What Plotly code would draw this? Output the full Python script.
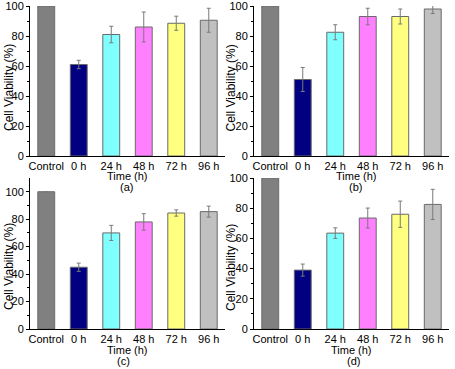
import plotly.graph_objects as go

categories = ["Control", "0 h", "24 h", "48 h", "72 h", "96 h"]
bar_colors = ["#808080", "#000080", "#80FFFF", "#FF80FF", "#FFFF80", "#C0C0C0"]

vals_a = [100, 61, 81, 86, 88.5, 90.5]
err_a = [None, 2.8, 5.5, 10, 4.7, 8]
vals_b = [100, 51, 82.5, 93, 93, 98]
err_b = [None, 8, 5, 5.5, 5, 3]
vals_c = [100, 45, 70, 78, 84.5, 85.5]
err_c = [None, 3, 5.5, 6, 2.3, 4]
vals_d = [100, 39, 63.5, 73.5, 76, 82.5]
err_d = [None, 4, 3.5, 6.6, 8.7, 10]

panel_labels = ["(a)", "(b)", "(c)", "(d)"]
x_title = "Time (h)"
y_title = "Cell Viability (%)"

W, H = 455, 369
FONT = "Arial, 'Liberation Sans', sans-serif"

def fx(px):
    return px / W

def fy(py):
    return 1 - py / H

panels = [
    dict(vals=vals_a, err=err_a, xd=(30, 225), yd=(156, 6), yr=[0, 100]),
    dict(vals=vals_b, err=err_b, xd=(254, 449), yd=(156, 6), yr=[0, 100]),
    dict(vals=vals_c, err=err_c, xd=(30, 225), yd=(329, 178), yr=[0, 110]),
    dict(vals=vals_d, err=err_d, xd=(254, 449), yd=(329, 178), yr=[0, 100]),
]

fig = go.Figure()
layout = {}
for i, p in enumerate(panels):
    n = "" if i == 0 else str(i + 1)
    fig.add_trace(go.Bar(
        x=categories, y=p["vals"],
        xaxis="x" + n, yaxis="y" + n,
        marker=dict(color=bar_colors, line=dict(color="#6a6a6a", width=1)),
        width=0.52,
        error_y=dict(type="data", array=p["err"], visible=True,
                     color="#7a7a7a", thickness=1, width=2),
        showlegend=False, hoverinfo="skip",
    ))
    layout["xaxis" + n] = dict(
        domain=[fx(p["xd"][0]), fx(p["xd"][1])],
        anchor="y" + n, type="category", range=[-0.5, 5.5],
        showline=True, linecolor="black", linewidth=1,
        ticks="", showgrid=False, zeroline=False, automargin=False,
        ticklabeloverflow="allow",
        tickfont=dict(family=FONT, size=11, color="black"),
    )
    layout["yaxis" + n] = dict(
        domain=[fy(p["yd"][0]), fy(p["yd"][1])],
        anchor="x" + n, range=p["yr"],
        showline=True, linecolor="black", linewidth=1,
        ticks="outside", ticklen=3, tickcolor="black", tickwidth=1,
        tickvals=[0, 20, 40, 60, 80, 100],
        minor=dict(ticks="outside", ticklen=2, tickcolor="black",
                   tickvals=[10, 30, 50, 70, 90]),
        showgrid=False, zeroline=False, automargin=False,
        ticklabeloverflow="allow",
        tickfont=dict(family=FONT, size=11, color="black"),
    )

ann = []
xt = [(127.5, 175.5), (356, 175.5), (127.5, 350), (351, 350)]
pl = [(126, 187), (355, 187), (124, 361), (353, 361)]
yt = [(9, 88), (230.5, 88), (9, 267), (231, 268)]
for i in range(4):
    ann.append(dict(x=fx(xt[i][0]), y=fy(xt[i][1]), xref="paper", yref="paper",
                    text=x_title, showarrow=False, xanchor="center", yanchor="middle",
                    font=dict(family=FONT, size=11, color="black")))
    ann.append(dict(x=fx(pl[i][0]), y=fy(pl[i][1]), xref="paper", yref="paper",
                    text=panel_labels[i], showarrow=False, xanchor="center", yanchor="middle",
                    font=dict(family=FONT, size=11, color="black")))
    ann.append(dict(x=fx(yt[i][0]), y=fy(yt[i][1]), xref="paper", yref="paper",
                    text=y_title, showarrow=False, xanchor="center", yanchor="middle",
                    textangle=-90,
                    font=dict(family=FONT, size=12, color="black")))

fig.update_layout(
    width=W, height=H,
    margin=dict(l=0, r=0, t=0, b=0),
    paper_bgcolor="white", plot_bgcolor="white",
    bargap=0.48,
    hovermode=False,
    annotations=ann,
    **layout,
)

fig.write_html("out.html",
               config={"displayModeBar": False, "staticPlot": True},
               post_script="document.body.style.margin='0px';document.body.style.overflow='hidden';")
